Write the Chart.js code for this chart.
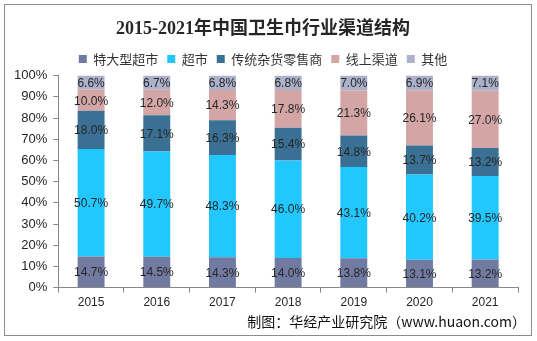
<!DOCTYPE html>
<html>
<head>
<meta charset="utf-8">
<script src="https://cdn.jsdelivr.net/npm/chart.js@4/dist/chart.umd.min.js"></script>
<style>
  html, body { margin: 0; padding: 0; background: #fff; }
  #wrap { width: 537px; height: 341px; position: relative; }
</style>
</head>
<body>
<div id="wrap"><canvas id="c" width="537" height="341"></canvas></div>
<script>
const years = ['2015', '2016', '2017', '2018', '2019', '2020', '2021'];
const seriesNames = ['特大型超市', '超市', '传统杂货零售商', '线上渠道', '其他'];
const hypermarket = [14.7, 14.5, 14.3, 14.0, 13.8, 13.1, 13.2];
const supermarket = [50.7, 49.7, 48.3, 46.0, 43.1, 40.2, 39.5];
const traditional = [18.0, 17.1, 16.3, 15.4, 14.8, 13.7, 13.2];
const online = [10.0, 12.0, 14.3, 17.8, 21.3, 26.1, 27.0];
const others = [6.6, 6.7, 6.8, 6.8, 7.0, 6.9, 7.1];
const yTicks = [0, 10, 20, 30, 40, 50, 60, 70, 80, 90, 100];
const titleText = '2015-2021年中国卫生巾行业渠道结构';
const sourceText = '制图：华经产业研究院（www.huaon.com）';

const colors = ['#717BA1', '#21C7FE', '#3A7093', '#D3A6A5', '#ABB2CA'];
const seriesData = [hypermarket, supermarket, traditional, online, others];

const labelPlugin = {
  id: 'labels',
  afterDatasetsDraw(chart) {
    const ctx = chart.ctx;
    ctx.save();
    ctx.font = '12px "Liberation Sans", Arial, sans-serif';
    ctx.fillStyle = '#262626';
    ctx.textAlign = 'center';
    ctx.textBaseline = 'middle';
    chart.data.datasets.forEach((ds, i) => {
      const meta = chart.getDatasetMeta(i);
      meta.data.forEach((bar, j) => {
        const v = ds.data[j];
        const yc = (bar.y + bar.base) / 2;
        ctx.fillText(v.toFixed(1) + '%', bar.x, yc + 1);
      });
    });
    ctx.restore();
  }
};

const framePlugin = {
  id: 'frame',
  beforeDraw(chart) {
    const ctx = chart.ctx;
    ctx.save();
    ctx.fillStyle = '#fff';
    ctx.fillRect(0, 0, chart.width, chart.height);
    ctx.restore();
  },
  afterDraw(chart) {
    const ctx = chart.ctx;
    ctx.save();
    ctx.strokeStyle = '#8c8c8c';
    ctx.lineWidth = 1;
    ctx.strokeRect(4.5, 4.5, 527, 331);
    ctx.font = '14px "Noto Sans CJK SC", "Liberation Sans", sans-serif';
    ctx.fillStyle = '#111';
    ctx.textAlign = 'right';
    ctx.textBaseline = 'middle';
    ctx.fillText(sourceText, 526, 322);
    ctx.restore();
  }
};

new Chart(document.getElementById('c'), {
  type: 'bar',
  data: {
    labels: years,
    datasets: seriesNames.map((n, i) => ({
      label: n,
      data: seriesData[i],
      backgroundColor: colors[i],
      borderWidth: 0,
      barPercentage: 0.41,
      categoryPercentage: 1.0
    }))
  },
  options: {
    responsive: false,
    animation: false,
    layout: { padding: { left: 8, right: 19, top: 4, bottom: 28 } },
    plugins: {
      title: {
        display: true,
        text: titleText,
        font: { family: '"Liberation Serif", "Noto Sans CJK SC", serif', size: 18, weight: 'bold' },
        color: '#262626',
        padding: { top: 15, bottom: 3 }
      },
      legend: {
        display: true,
        position: 'top',
        labels: {
          boxWidth: 8,
          boxHeight: 8,
          padding: 9,
          color: '#333',
          font: { family: '"Noto Sans CJK SC", sans-serif', size: 13 }
        }
      },
      tooltip: { enabled: false }
    },
    scales: {
      x: {
        stacked: true,
        grid: { drawOnChartArea: false, drawTicks: true, tickLength: 5, color: '#888', offset: true },
        border: { color: '#888' },
        ticks: { color: '#262626', font: { family: '"Liberation Sans", Arial, sans-serif', size: 12 }, padding: 3 }
      },
      y: {
        stacked: true,
        min: 0,
        max: 100,
        afterBuildTicks(axis) { axis.ticks = yTicks.map(v => ({ value: v })); },
        grid: { drawOnChartArea: false, drawTicks: true, tickLength: 5, color: '#888' },
        border: { color: '#888' },
        ticks: {
          color: '#262626',
          font: { family: '"Liberation Sans", Arial, sans-serif', size: 13 },
          padding: 6,
          callback: v => v + '%'
        }
      }
    }
  },
  plugins: [labelPlugin, framePlugin]
});
</script>
</body>
</html>
